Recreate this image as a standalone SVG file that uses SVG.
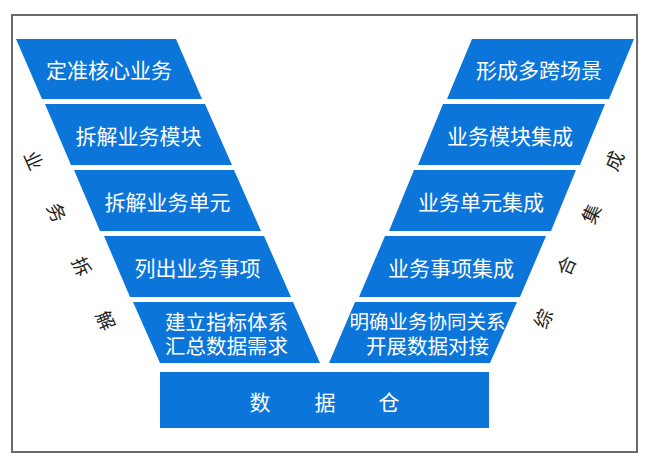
<svg xmlns="http://www.w3.org/2000/svg" width="652" height="466" viewBox="0 0 652 466">
<style>
.blk{fill:#0B75DA}
.t{fill:#ffffff;font-family:"Noto Sans CJK SC","Noto Sans",sans-serif;font-size:21px;text-anchor:middle;dominant-baseline:central}
.t2{font-size:20.5px}
.s{fill:#222222;font-family:"Noto Sans CJK SC","Noto Sans",sans-serif;font-size:19px;text-anchor:middle;dominant-baseline:central}
</style>
<rect x="0" y="0" width="652" height="466" fill="#ffffff"/>
<rect x="12" y="15" width="625" height="437" fill="#ffffff" stroke="#6b6b6b" stroke-width="2"/>
<g id="connectors"></g>
<g id="L1"><polygon class="blk" points="16,39 176,39 202,99 42,99"/><text class="t" x="109" y="69">定准核心业务</text></g>
<g id="L2"><polygon class="blk" points="45,104 205,104 232,165 71,165"/><text class="t" x="138.5" y="134.5">拆解业务模块</text></g>
<g id="L3"><polygon class="blk" points="74,170 234,170 261,231 100,231"/><text class="t" x="167.5" y="200.5">拆解业务单元</text></g>
<g id="L4"><polygon class="blk" points="104,236 264,236 291,297 130,297"/><text class="t" x="197.5" y="266.5">列出业务事项</text></g>
<g id="L5"><polygon class="blk" points="133,302 293,302 320,363 160,363"/><text class="t t2" x="226.5" y="320.5">建立指标体系</text><text class="t t2" x="226.5" y="344.5">汇总数据需求</text></g>
<g id="R1"><polygon class="blk" points="634,39 472,39 447,99 609,99"/><text class="t" x="539" y="69">形成多跨场景</text></g>
<g id="R2"><polygon class="blk" points="605,104 443,104 418,165 580,165"/><text class="t" x="510" y="134.5">业务模块集成</text></g>
<g id="R3"><polygon class="blk" points="576,170 414,170 389,231 551,231"/><text class="t" x="481" y="200.5">业务单元集成</text></g>
<g id="R4"><polygon class="blk" points="546,236 385,236 359,297 520,297"/><text class="t" x="451" y="266.5">业务事项集成</text></g>
<g id="R5"><polygon class="blk" points="517,302 355,302 329,363 490,363"/><text class="t" x="427.5" y="320.5" style="font-size:19.5px">明确业务协同关系</text><text class="t t2" x="427.5" y="344.5">开展数据对接</text></g>
<g id="base"><rect class="blk" x="160" y="372" width="329" height="56"/><text class="t" x="260" y="401">数</text><text class="t" x="325" y="401">据</text><text class="t" x="389" y="401">仓</text></g>
<g id="left-label">
<text class="s" transform="translate(35,160) rotate(66)">业</text>
<text class="s" transform="translate(58,212) rotate(66)">务</text>
<text class="s" transform="translate(83,266) rotate(66)">拆</text>
<text class="s" transform="translate(107,320) rotate(66)">解</text>
</g>
<g id="right-label">
<text class="s" transform="translate(613,160) rotate(-66)">成</text>
<text class="s" transform="translate(590,213) rotate(-66)">集</text>
<text class="s" transform="translate(565,265) rotate(-66)">合</text>
<text class="s" transform="translate(542,318) rotate(-66)">综</text>
</g>
</svg>
